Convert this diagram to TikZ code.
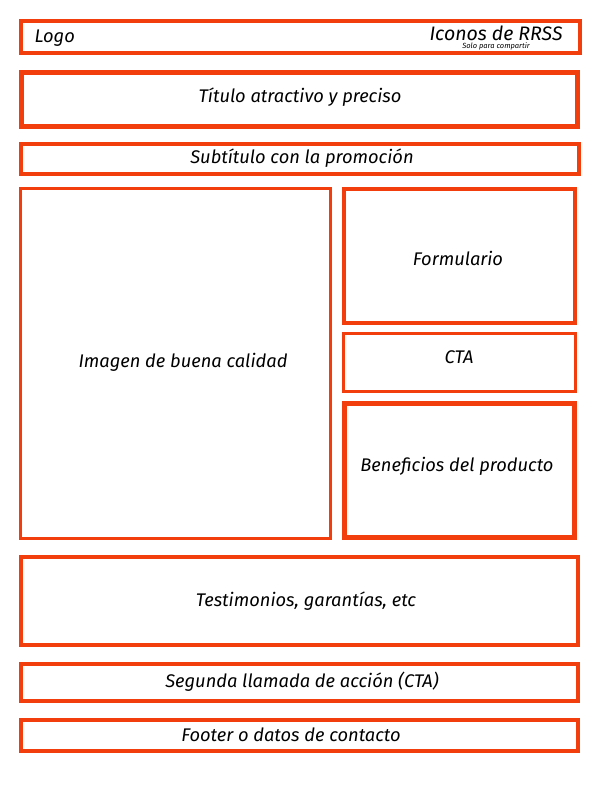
\documentclass[tikz,border=0pt]{standalone}
\usepackage{fontspec}
\setmainfont{Fira Sans}
\definecolor{org}{HTML}{F23D0C}
\begin{document}
\begin{tikzpicture}[x=1pt,y=-1pt,
 bx/.style={draw=org,line width=#1pt},
 lbl/.style={font=\itshape\fontsize{18.3}{20}\selectfont}]
\useasboundingbox (0,0) rectangle (605,800);
\draw[bx=4] (21,21) rectangle (580,53);
\node[lbl,anchor=west] (logo) at (31,38) {Logo};
\node[font=\itshape\fontsize{19.5}{21}\selectfont] (rrss) at (496,33) {Iconos de RRSS};
\node[font=\itshape\fontsize{7.5}{8}\selectfont,inner sep=0pt] (solo) at (496,46) {Solo para compartir};
\draw[bx=5] (21.5,72.5) rectangle (577.5,126.5);
\node[lbl] (t) at (300,97) {Título atractivo y preciso};
\draw[bx=4] (21,144) rectangle (579,174);
\node[lbl] (s) at (302,158) {Subtítulo con la promoción};
\draw[bx=3] (20.5,188.5) rectangle (330.5,538.5);
\node[lbl] (img) at (183,362) {Imagen de buena calidad};
\draw[bx=4] (344,189) rectangle (575,323);
\node[lbl] (f) at (458,258) {Formulario};
\draw[bx=3] (343.5,333.5) rectangle (575.5,391.5);
\node[lbl] (c) at (459,357) {CTA};
\draw[bx=5] (344.5,403.5) rectangle (574.5,537.5);
\node[lbl] (b) at (457,466) {Beneficios del producto};
\draw[bx=4] (21,557) rectangle (578,645);
\node[lbl] (te) at (306,601) {Testimonios, garantías, etc};
\draw[bx=4] (21,664) rectangle (578,701);
\node[lbl] (sg) at (302,682) {Segunda llamada de acción (CTA)};
\draw[bx=4] (21,720) rectangle (578,751);
\node[lbl] (ft) at (291,735) {Footer o datos de contacto};
\end{tikzpicture}
\end{document}
